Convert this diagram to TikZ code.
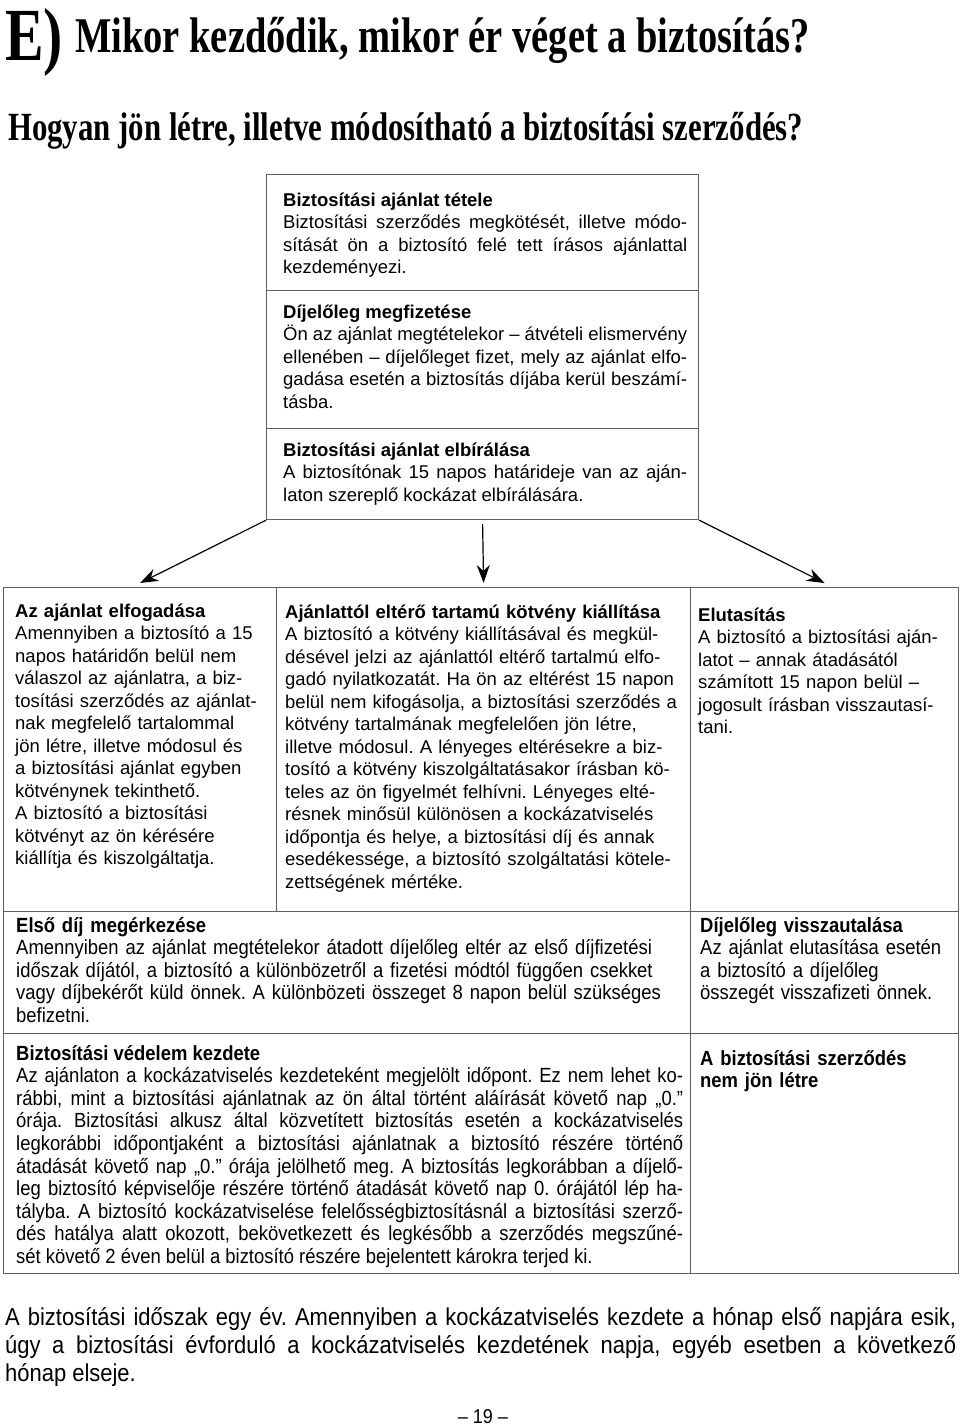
\documentclass[tikz,border=0pt]{standalone}
\usepackage{fontspec}
\usepackage{tikz}
\usetikzlibrary{positioning,arrows.meta}
\newfontfamily\regfont{Liberation Sans}
\newfontfamily\narrowfont[FakeStretch=0.9]{Liberation Sans}
\newfontfamily\titlefont[FakeStretch=0.77]{Liberation Serif}
\definecolor{rulegray}{RGB}{95,95,95}
\tolerance=10000
\hyphenpenalty=10000
\frenchspacing

\tikzset{
  cell/.style={draw=rulegray, line width=1.2pt, inner sep=0pt, anchor=north west},
  body/.style={inner sep=0pt, anchor=base west, align=left, font=\regfont\fontsize{18.5}{22.5}\selectfont},
  bodyj/.style={body, align=justify},
  narrow/.style={inner sep=0pt, anchor=base west, align=left, font=\narrowfont\fontsize{20.5}{22.6}\selectfont},
  narrowj/.style={narrow, align=justify},
  head/.style={inner sep=0pt, anchor=base west, font=\titlefont\bfseries\fontsize{#1}{#1}\selectfont},
  link/.style={-{Stealth[length=18pt,width=13pt]}, line width=1.2pt},
}

\begin{document}
\begin{tikzpicture}[x=1pt, y=-1pt]
  \useasboundingbox (0,0) rectangle (960,1427);

  % title
  \node[head=75] (sec) at (5,60) {E)};
  \node[head=50] (q1) at (75,52) {Mikor kezdődik, mikor ér véget a biztosítás?};
  \node[head=40] (q2) at (8,140) {Hogyan jön létre, illetve módosítható a biztosítási szerződés?};

  % offer, advance, review
  \node[cell, minimum width=432pt, minimum height=116pt] (offer) at (266,174) {};
  \node[bodyj, text width=404pt] (offer-t) at ([xshift=17pt,yshift=-32pt]offer.north west)
    {\textbf{Biztosítási ajánlat tétele}\newline
     Biztosítási szerződés megkötését, illetve módo-\linebreak
     sítását ön a biztosító felé tett írásos ajánlattal\linebreak
     kezdeményezi.};
  \node[cell, minimum width=432pt, minimum height=138pt] (advance) at (266,290) {};
  \node[bodyj, text width=404pt] (advance-t) at ([xshift=17pt,yshift=-28pt]advance.north west)
    {\textbf{Díjelőleg megfizetése}\newline
     Ön az ajánlat megtételekor – átvételi elismervény\linebreak
     ellenében – díjelőleget fizet, mely az ajánlat elfo-\linebreak
     gadása esetén a biztosítás díjába kerül beszámí-\linebreak
     tásba.};
  \node[cell, minimum width=432pt, minimum height=91pt] (review) at (266,428) {};
  \node[bodyj, text width=404pt] (review-t) at ([xshift=17pt,yshift=-28pt]review.north west)
    {\textbf{Biztosítási ajánlat elbírálása}\newline
     A biztosítónak 15 napos határideje van az aján-\linebreak
     laton szereplő kockázat elbírálására.};

  % outcomes
  \node[cell, minimum width=273pt, minimum height=324pt] (acc) at (3,587) {};
  \node[body, text width=258pt] (acc-t) at ([xshift=12pt,yshift=-30pt]acc.north west)
    {\textbf{Az ajánlat elfogadása}\\
     Amennyiben a biztosító a 15\\
     napos határidőn belül nem\\
     válaszol az ajánlatra, a biz-\\
     tosítási szerződés az ajánlat-\\
     nak megfelelő tartalommal\\
     jön létre, illetve módosul és\\
     a biztosítási ajánlat egyben\\
     kötvénynek tekinthető.\\
     A biztosító a biztosítási\\
     kötvényt az ön kérésére\\
     kiállítja és kiszolgáltatja.};
  \node[cell, minimum width=414pt, minimum height=324pt] (alt) at (276,587) {};
  \node[body, text width=400pt] (alt-t) at ([xshift=9pt,yshift=-31pt]alt.north west)
    {\textbf{Ajánlattól eltérő tartamú kötvény kiállítása}\\
     A biztosító a kötvény kiállításával és megkül-\\
     désével jelzi az ajánlattól eltérő tartalmú elfo-\\
     gadó nyilatkozatát. Ha ön az eltérést 15 napon\\
     belül nem kifogásolja, a biztosítási szerződés a\\
     kötvény tartalmának megfelelően jön létre,\\
     illetve módosul. A lényeges eltérésekre a biz-\\
     tosító a kötvény kiszolgáltatásakor írásban kö-\\
     teles az ön figyelmét felhívni. Lényeges elté-\\
     résnek minősül különösen a kockázatviselés\\
     időpontja és helye, a biztosítási díj és annak\\
     esedékessége, a biztosító szolgáltatási kötele-\\
     zettségének mértéke.};
  \node[cell, minimum width=268pt, minimum height=324pt] (rej) at (690,587) {};
  \node[body, text width=255pt] (rej-t) at ([xshift=8pt,yshift=-34pt]rej.north west)
    {\textbf{Elutasítás}\\
     A biztosító a biztosítási aján-\\
     latot – annak átadásától\\
     számított 15 napon belül –\\
     jogosult írásban visszautasí-\\
     tani.};

  % first premium, refund
  \node[cell, minimum width=687pt, minimum height=122pt] (first) at (3,911) {};
  \node[narrow, text width=665pt] (first-t) at ([xshift=13pt,yshift=-21pt]first.north west)
    {\textbf{Első díj megérkezése}\\
     Amennyiben az ajánlat megtételekor átadott díjelőleg eltér az első díjfizetési\\
     időszak díjától, a biztosító a különbözetről a fizetési módtól függően csekket\\
     vagy díjbekérőt küld önnek. A különbözeti összeget 8 napon belül szükséges\\
     befizetni.};
  \node[cell, minimum width=268pt, minimum height=122pt] (refund) at (690,911) {};
  \node[narrow, text width=250pt] (refund-t) at ([xshift=10pt,yshift=-21pt]refund.north west)
    {\textbf{Díjelőleg visszautalása}\\
     Az ajánlat elutasítása esetén\\
     a biztosító a díjelőleg\\
     összegét visszafizeti önnek.};

  % cover start, no contract
  \node[cell, minimum width=687pt, minimum height=240pt] (cover) at (3,1033) {};
  \node[narrowj, text width=667pt] (cover-t) at ([xshift=13pt,yshift=-27pt]cover.north west)
    {\textbf{Biztosítási védelem kezdete}\newline
     Az ajánlaton a kockázatviselés kezdeteként megjelölt időpont. Ez nem lehet ko-\linebreak
     rábbi, mint a biztosítási ajánlatnak az ön által történt aláírását követő nap „0.”\linebreak
     órája. Biztosítási alkusz által közvetített biztosítás esetén a kockázatviselés\linebreak
     legkorábbi időpontjaként a biztosítási ajánlatnak a biztosító részére történő\linebreak
     átadását követő nap „0.” órája jelölhető meg. A biztosítás legkorábban a díjelő-\linebreak
     leg biztosító képviselője részére történő átadását követő nap 0. órájától lép ha-\linebreak
     tályba. A biztosító kockázatviselése felelősségbiztosításnál a biztosítási szerző-\linebreak
     dés hatálya alatt okozott, bekövetkezett és legkésőbb a szerződés megszűné-\linebreak
     sét követő 2 éven belül a biztosító részére bejelentett károkra terjed ki.};
  \node[cell, minimum width=268pt, minimum height=240pt] (void) at (690,1033) {};
  \node[narrow, text width=250pt] (void-t) at ([xshift=10pt,yshift=-32pt]void.north west)
    {\textbf{A biztosítási szerződés}\\
     \textbf{nem jön létre}};

  % arrows
  \draw[link] (review.south west) -- ([yshift=4pt]acc.north);
  \draw[link] ([yshift=-4pt]review.south) -- ([yshift=4pt]alt.north);
  \draw[link] (review.south east) -- ([yshift=4pt]rej.north);

  % footnote, page number
  \node[narrowj, text width=951pt, font=\narrowfont\fontsize{24.4}{28}\selectfont] (note) at (5,1325)
    {A biztosítási időszak egy év. Amennyiben a kockázatviselés kezdete a hónap első napjára esik,\linebreak
     úgy a biztosítási évforduló a kockázatviselés kezdetének napja, egyéb esetben a következő\linebreak
     hónap elseje.};
  \node[narrow, anchor=base, font=\narrowfont\fontsize{20}{22}\selectfont] (page) at (483,1423) {– 19 –};
\end{tikzpicture}
\end{document}
